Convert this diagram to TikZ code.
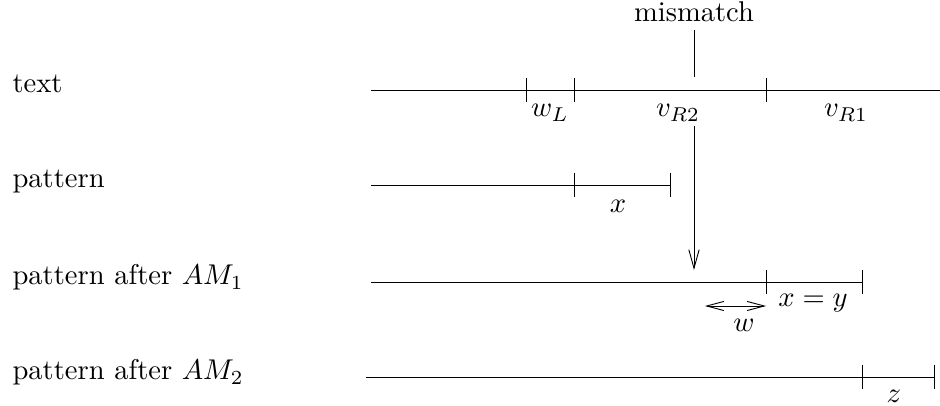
\documentclass[tikz,border=0pt]{standalone}
\usetikzlibrary{arrows.meta}
\begin{document}
\begin{tikzpicture}[x=0.35pt, y=-0.35pt,
  row label/.style={anchor=base west, inner sep=0pt},
  seg label/.style={anchor=base, inner sep=0pt},
  scale line/.style={line width=0.32pt},
  bar/.style={line width=0.32pt},
  open arrow/.style={-{Straight Barb[length=6.5pt,width=3.6pt]}, line width=0.32pt},
  open arrows/.style={{Straight Barb[length=6pt,width=3.2pt]}-{Straight Barb[length=6pt,width=3.2pt]}, line width=0.32pt}
]
  \useasboundingbox (0,0) rectangle (940,406);

  % row labels
  \node[row label] (ltext) at (12,93) {text};
  \node[row label] (lpat) at (12,188) {pattern};
  \node[row label] (lam1) at (12,285) {pattern after $AM_1$};
  \node[row label] (lam2) at (12,380) {pattern after $AM_2$};

  % text
  \draw[scale line] (371,90) -- (940,90);
  \foreach \t in {526,574,766}
    \draw[bar] (\t,78) -- (\t,102);
  \node[seg label] (wl) at (550,117) {$w_L$};
  \node[seg label] (vr2) at (678,117) {$v_{R2}$};
  \node[seg label] (vr1) at (846,117) {$v_{R1}$};

  % mismatch marker
  \node[seg label] (mis) at (694,22) {mismatch};
  \coordinate (mtop) at (694,30);
  \coordinate (mbot) at (694,77);
  \draw[bar] (mtop) -- (mbot);

  % pattern
  \draw[scale line] (371,185) -- (670,185);
  \foreach \t in {574,670}
    \draw[bar] (\t,173) -- (\t,197);
  \node[seg label] (px) at (618,213) {$x$};

  % pattern after AM1
  \draw[scale line] (371,282) -- (862,282);
  \foreach \t in {766,862}
    \draw[bar] (\t,270) -- (\t,294);
  \node[seg label] (xy) at (813,307) {$x=y$};
  \node[seg label] (pw) at (744,332) {$w$};
  \coordinate (atop) at (694,126);
  \coordinate (abot) at (694,270);
  \draw[open arrow] (atop) -- (abot);
  \coordinate (wlft) at (705,306);
  \coordinate (wrgt) at (766,306);
  \draw[open arrows] (wlft) -- (wrgt);

  % pattern after AM2
  \draw[scale line] (366,377) -- (934,377);
  \foreach \t in {862,934}
    \draw[bar] (\t,365) -- (\t,389);
  \node[seg label] (pz) at (894,403) {$z$};
\end{tikzpicture}
\end{document}
